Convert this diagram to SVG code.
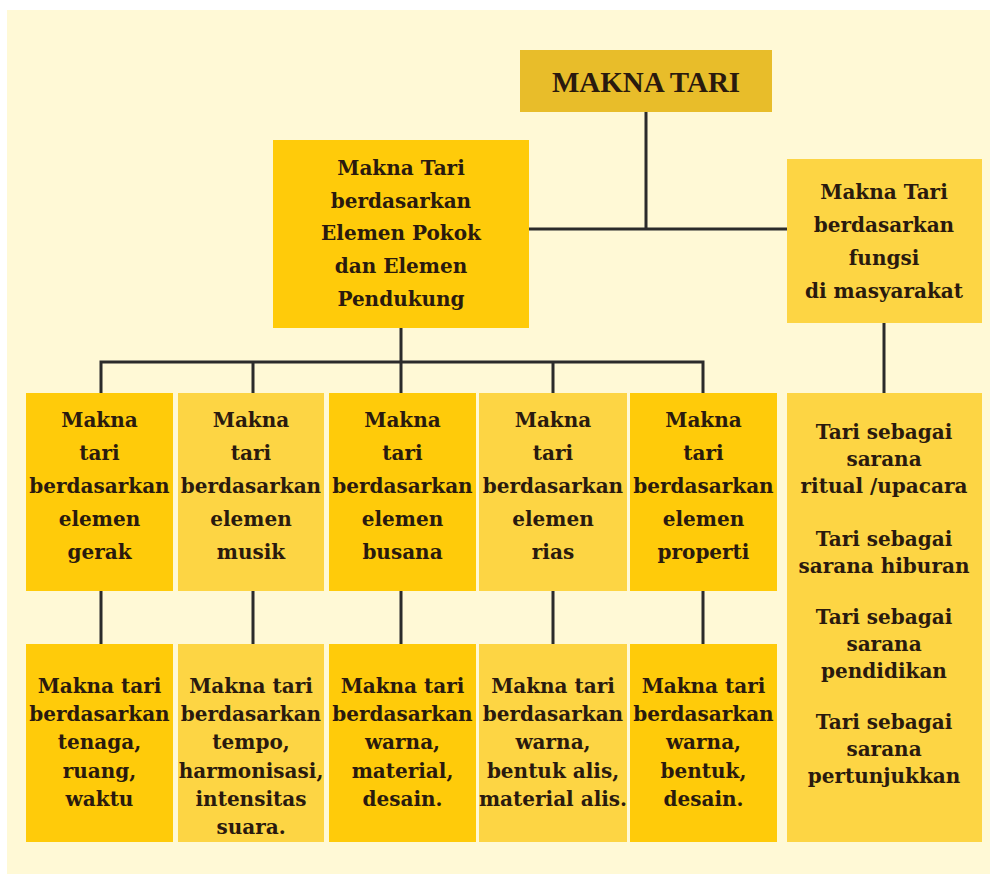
<svg xmlns="http://www.w3.org/2000/svg" width="990" height="874" viewBox="0 0 990 874">
<style>
.t{font-family:"DejaVu Serif",serif;font-weight:bold;font-size:20px;fill:#2a1a0e;text-anchor:middle}
.title{font-family:"Liberation Serif",serif;font-weight:bold;font-size:29px;fill:#2a1a0e;text-anchor:middle}
.dark{fill:#ffcb0a}
.light{fill:#fdd544}
.c{stroke:#2b2b2b;stroke-width:3;fill:none;stroke-linecap:square}
</style>
<rect x="0" y="0" width="990" height="874" fill="#ffffff"/>
<rect x="7" y="10" width="983" height="864" fill="#fff9d6"/>
<g id="connectors" class="c">
<path d="M646 112V229M529 229H787"/>
<path d="M401 328V362M101 362H703M101 362V393M253 362V393M401 362V393M553 362V393M703 362V393"/>
<path d="M884 323V393"/>
<path d="M101 591V644M253 591V644M401 591V644M553 591V644M703 591V644"/>
</g>
<g id="makna-tari">
<rect x="520" y="50" width="252" height="62" fill="#e8bd2a"/>
<text class="title" x="646" y="92">MAKNA TARI</text>
</g>
<g id="elemen-pokok">
<rect class="dark" x="273" y="140" width="256" height="188"/>
<text class="t" x="401" y="175">Makna Tari</text>
<text class="t" x="401" y="208">berdasarkan</text>
<text class="t" x="401" y="240">Elemen Pokok</text>
<text class="t" x="401" y="273">dan Elemen</text>
<text class="t" x="401" y="306">Pendukung</text>
</g>
<g id="fungsi">
<rect class="light" x="787" y="159" width="195" height="164"/>
<text class="t" x="884" y="199">Makna Tari</text>
<text class="t" x="884" y="232">berdasarkan</text>
<text class="t" x="884" y="265">fungsi</text>
<text class="t" x="884" y="298">di masyarakat</text>
</g>
<g id="gerak">
<rect class="dark" x="26" y="393" width="147" height="198"/>
<text class="t" x="99.5" y="427">Makna</text>
<text class="t" x="99.5" y="460">tari</text>
<text class="t" x="99.5" y="493">berdasarkan</text>
<text class="t" x="99.5" y="526">elemen</text>
<text class="t" x="99.5" y="559">gerak</text>
</g>
<g id="musik">
<rect class="light" x="178" y="393" width="146" height="198"/>
<text class="t" x="251" y="427">Makna</text>
<text class="t" x="251" y="460">tari</text>
<text class="t" x="251" y="493">berdasarkan</text>
<text class="t" x="251" y="526">elemen</text>
<text class="t" x="251" y="559">musik</text>
</g>
<g id="busana">
<rect class="dark" x="329" y="393" width="147" height="198"/>
<text class="t" x="402.5" y="427">Makna</text>
<text class="t" x="402.5" y="460">tari</text>
<text class="t" x="402.5" y="493">berdasarkan</text>
<text class="t" x="402.5" y="526">elemen</text>
<text class="t" x="402.5" y="559">busana</text>
</g>
<g id="rias">
<rect class="light" x="479" y="393" width="148" height="198"/>
<text class="t" x="553" y="427">Makna</text>
<text class="t" x="553" y="460">tari</text>
<text class="t" x="553" y="493">berdasarkan</text>
<text class="t" x="553" y="526">elemen</text>
<text class="t" x="553" y="559">rias</text>
</g>
<g id="properti">
<rect class="dark" x="630" y="393" width="147" height="198"/>
<text class="t" x="703.5" y="427">Makna</text>
<text class="t" x="703.5" y="460">tari</text>
<text class="t" x="703.5" y="493">berdasarkan</text>
<text class="t" x="703.5" y="526">elemen</text>
<text class="t" x="703.5" y="559">properti</text>
</g>
<g id="fungsi-list">
<rect class="light" x="787" y="393" width="195" height="449"/>
<text class="t" x="884" y="439">Tari sebagai</text>
<text class="t" x="884" y="466">sarana</text>
<text class="t" x="884" y="493">ritual /upacara</text>
<text class="t" x="884" y="546">Tari sebagai</text>
<text class="t" x="884" y="573">sarana hiburan</text>
<text class="t" x="884" y="624">Tari sebagai</text>
<text class="t" x="884" y="651">sarana</text>
<text class="t" x="884" y="678">pendidikan</text>
<text class="t" x="884" y="729">Tari sebagai</text>
<text class="t" x="884" y="756">sarana</text>
<text class="t" x="884" y="783">pertunjukkan</text>
</g>
<g id="gerak-detail">
<rect class="dark" x="26" y="644" width="147" height="198"/>
<text class="t" x="99.5" y="693">Makna tari</text>
<text class="t" x="99.5" y="721">berdasarkan</text>
<text class="t" x="99.5" y="749">tenaga,</text>
<text class="t" x="99.5" y="778">ruang,</text>
<text class="t" x="99.5" y="806">waktu</text>
</g>
<g id="musik-detail">
<rect class="light" x="178" y="644" width="146" height="198"/>
<text class="t" x="251" y="693">Makna tari</text>
<text class="t" x="251" y="721">berdasarkan</text>
<text class="t" x="251" y="749">tempo,</text>
<text class="t" x="251" y="778">harmonisasi,</text>
<text class="t" x="251" y="806">intensitas</text>
<text class="t" x="251" y="834">suara.</text>
</g>
<g id="busana-detail">
<rect class="dark" x="329" y="644" width="147" height="198"/>
<text class="t" x="402.5" y="693">Makna tari</text>
<text class="t" x="402.5" y="721">berdasarkan</text>
<text class="t" x="402.5" y="749">warna,</text>
<text class="t" x="402.5" y="778">material,</text>
<text class="t" x="402.5" y="806">desain.</text>
</g>
<g id="rias-detail">
<rect class="light" x="479" y="644" width="148" height="198"/>
<text class="t" x="553" y="693">Makna tari</text>
<text class="t" x="553" y="721">berdasarkan</text>
<text class="t" x="553" y="749">warna,</text>
<text class="t" x="553" y="778">bentuk alis,</text>
<text class="t" x="553" y="806">material alis.</text>
</g>
<g id="properti-detail">
<rect class="dark" x="630" y="644" width="147" height="198"/>
<text class="t" x="703.5" y="693">Makna tari</text>
<text class="t" x="703.5" y="721">berdasarkan</text>
<text class="t" x="703.5" y="749">warna,</text>
<text class="t" x="703.5" y="778">bentuk,</text>
<text class="t" x="703.5" y="806">desain.</text>
</g>
</svg>
